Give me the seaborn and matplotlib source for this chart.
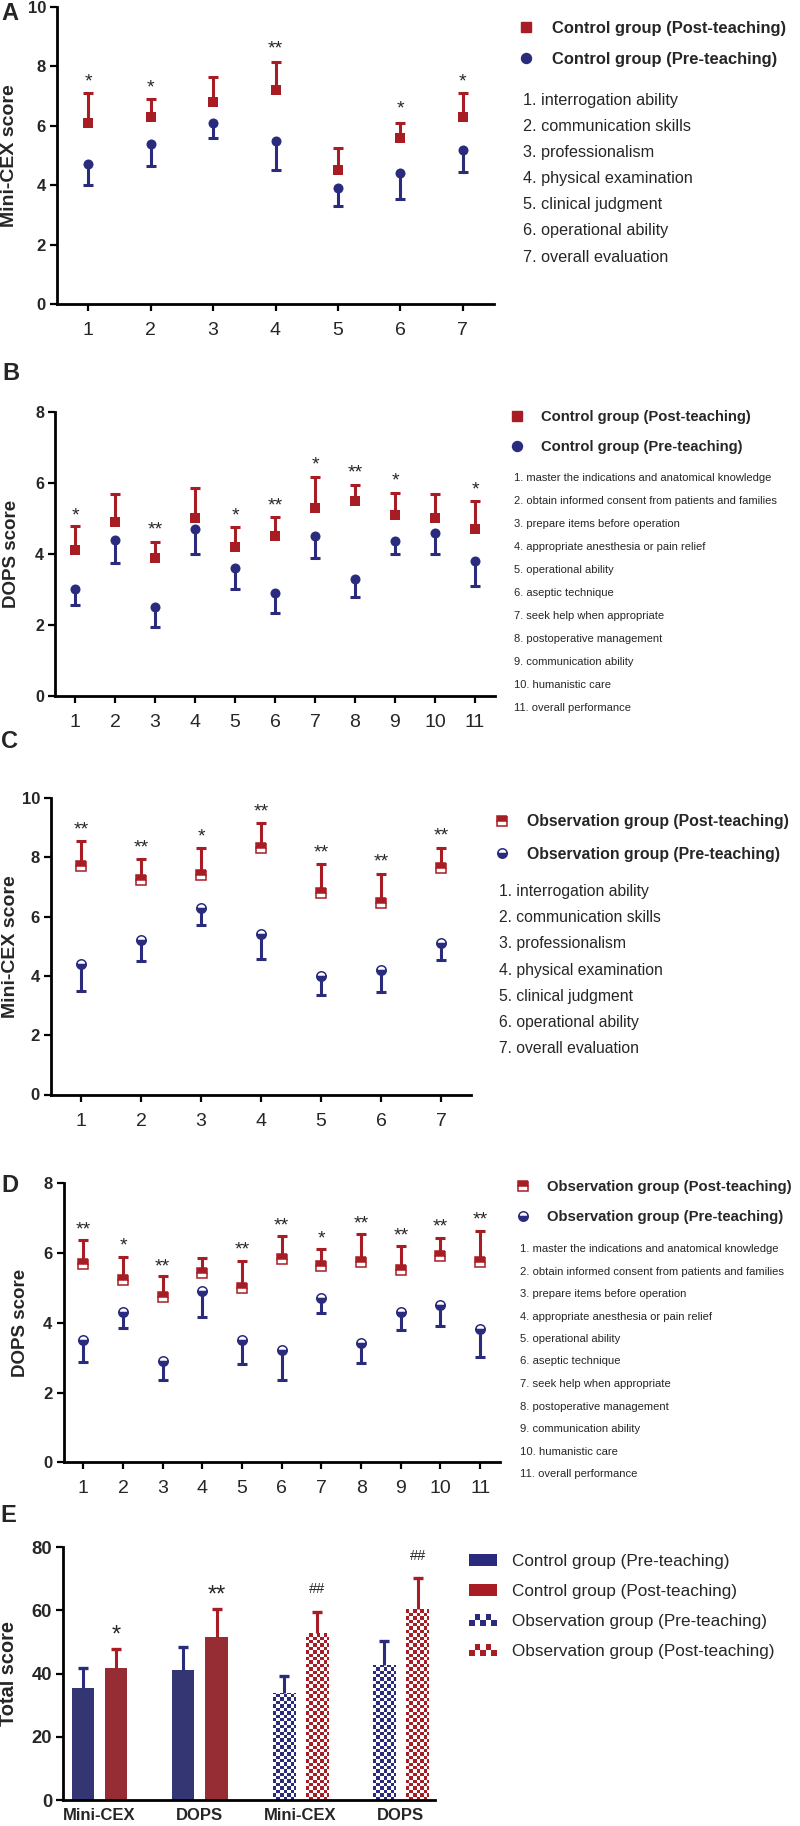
import numpy as np
import pandas as pd
import matplotlib
matplotlib.use("Agg")
import matplotlib.pyplot as plt
import seaborn as sns
from matplotlib import font_manager
from matplotlib.font_manager import FontProperties
from matplotlib.lines import Line2D
from matplotlib.patches import Patch, Rectangle
from matplotlib.legend_handler import HandlerBase
from matplotlib.colors import ListedColormap

RED = "#a81c24"
BLUE = "#2a2b7d"

# ---------------- data ----------------
mini_items = ["1. interrogation ability", "2. communication skills", "3. professionalism",
              "4. physical examination", "5. clinical judgment", "6. operational ability",
              "7. overall evaluation"]
dops_items = ["1. master the indications and anatomical knowledge",
              "2. obtain informed consent from patients and families",
              "3. prepare items before operation", "4. appropriate anesthesia or pain relief",
              "5. operational ability", "6. aseptic technique", "7. seek help when appropriate",
              "8. postoperative management", "9. communication ability",
              "10. humanistic care", "11. overall performance"]

# A: control group, Mini-CEX
a_post = [6.1, 6.3, 6.8, 7.2, 4.5, 5.6, 6.3]
a_post_hi = [7.1, 6.9, 7.65, 8.15, 5.25, 6.1, 7.1]
a_pre = [4.7, 5.4, 6.1, 5.5, 3.9, 4.4, 5.2]
a_pre_lo = [4.0, 4.65, 5.6, 4.5, 3.3, 3.55, 4.45]
a_sig = ["*", "*", "", "**", "", "*", "*"]
a_sig_y = [7.7, 7.5, 0, 8.8, 0, 6.8, 7.7]

# B: control group, DOPS
b_post = [4.1, 4.9, 3.9, 5.0, 4.2, 4.5, 5.3, 5.5, 5.1, 5.0, 4.7]
b_post_hi = [4.8, 5.7, 4.35, 5.87, 4.75, 5.03, 6.18, 5.94, 5.71, 5.69, 5.49]
b_pre = [3.0, 4.4, 2.5, 4.7, 3.6, 2.9, 4.5, 3.3, 4.37, 4.6, 3.8]
b_pre_lo = [2.56, 3.74, 1.94, 4.0, 3.0, 2.35, 3.88, 2.78, 4.0, 4.0, 3.1]
b_sig = ["*", "", "**", "", "*", "**", "*", "**", "*", "", "*"]
b_sig_y = [5.26, 0, 4.85, 0, 5.26, 5.54, 6.68, 6.46, 6.23, 0, 5.99]

# C: observation group, Mini-CEX
c_post = [7.7, 7.25, 7.4, 8.3, 6.8, 6.45, 7.65]
c_post_hi = [8.55, 7.94, 8.31, 9.15, 7.78, 7.43, 8.31]
c_pre = [4.4, 5.2, 6.3, 5.4, 4.0, 4.2, 5.1]
c_pre_lo = [3.48, 4.49, 5.7, 4.57, 3.34, 3.46, 4.55]
c_sig = ["**", "**", "*", "**", "**", "**", "**"]
c_sig_y = [9.15, 8.53, 8.92, 9.76, 8.38, 8.05, 8.95]

# D: observation group, DOPS
d_post = [5.68, 5.23, 4.75, 5.42, 4.99, 5.83, 5.63, 5.73, 5.52, 5.92, 5.73]
d_post_hi = [6.36, 5.9, 5.33, 5.85, 5.78, 6.49, 6.11, 6.54, 6.21, 6.44, 6.64]
d_pre = [3.51, 4.3, 2.91, 4.92, 3.51, 3.22, 4.7, 3.41, 4.32, 4.51, 3.82]
d_pre_lo = [2.89, 3.84, 2.36, 4.16, 2.82, 2.36, 4.27, 2.86, 3.8, 3.92, 3.01]
d_sig = ["**", "*", "**", "", "**", "**", "*", "**", "**", "**", "**"]
d_sig_y = [6.86, 6.38, 5.8, 0, 6.28, 6.97, 6.6, 7.02, 6.69, 6.95, 7.14]

# E: total scores
e_keys = ["Control Mini-CEX", "Control DOPS", "Observation Mini-CEX", "Observation DOPS"]
e_tests = ["Mini-CEX", "DOPS", "Mini-CEX", "DOPS"]
e_checked = [False, False, True, True]
e_pre = [35.4, 41.2, 34.0, 42.7]
e_pre_hi = [41.7, 48.3, 39.3, 50.3]
e_post = [41.9, 51.5, 52.8, 60.4]
e_post_hi = [47.7, 60.4, 59.6, 70.4]
e_sig = ["*", "**", "##", "##"]
e_sig_y = [54.3, 67.0, 67.0, 77.6]

# ---------------- style ----------------
sns.set_style("ticks")
installed = {f.name for f in font_manager.fontManager.ttflist}
BASE = "Liberation Sans" if "Liberation Sans" in installed else "DejaVu Sans"
if "Liberation Sans Narrow" in installed:
    NARROW, NSCALE = "Liberation Sans Narrow", 1.0
else:
    NARROW, NSCALE = BASE, 0.82
plt.rcParams["font.family"] = [BASE, "DejaVu Sans"]

W, H = 800, 1826
fig = plt.figure(figsize=(W / 100, H / 100), dpi=100)


def px_axes(left, top, right, bottom):
    return fig.add_axes([left / W, 1 - bottom / H, (right - left) / W, (bottom - top) / H])


def style_axes(ax, yticks, ytick_fs, ylabel, ylabel_fs, ylabel_x):
    sns.despine(ax=ax)
    for s in ("left", "bottom"):
        ax.spines[s].set_linewidth(2.0)
        ax.spines[s].set_color("black")
    ax.tick_params(axis="both", direction="out", length=5, width=1.6, color="black")
    ax.tick_params(axis="y", pad=3)
    ax.set_yticks(yticks)
    ax.set_yticklabels([str(t) for t in yticks], fontsize=ytick_fs, fontweight="bold")
    ax.set_ylabel(ylabel, fontsize=ylabel_fs, fontweight="bold", va="center")
    bb = ax.get_position()
    ax.yaxis.set_label_coords((ylabel_x / W - bb.x0) / bb.width, 0.5)


def sig_text(ax, x, y, s, fs):
    lift = 0.35 if s.startswith("#") else 0.57
    ax.annotate(s, (x, y), xytext=(0, -lift * fs), textcoords="offset points",
                ha="center", va="baseline", fontsize=fs)


def point_panel(ax, post, post_hi, pre, pre_lo, sig, sig_y, ymax, half):
    x = np.arange(1, len(post) + 1)
    ax.vlines(x, post, post_hi, color=RED, lw=2.2, zorder=2)
    ax.plot(x, post_hi, ls="", marker="_", ms=6.8, mew=2.2, color=RED, zorder=2)
    ax.vlines(x, pre_lo, pre, color=BLUE, lw=2.2, zorder=2)
    ax.plot(x, pre_lo, ls="", marker="_", ms=6.8, mew=2.2, color=BLUE, zorder=2)
    if half:
        ax.plot(x, post, ls="", marker="s", ms=6.6, fillstyle="top", color=RED,
                markerfacecoloralt="white", mec=RED, mew=1.1, zorder=3)
        ax.plot(x, pre, ls="", marker="o", ms=6.8, fillstyle="bottom", color=BLUE,
                markerfacecoloralt="white", mec=BLUE, mew=1.1, zorder=3)
    else:
        sns.scatterplot(x=x, y=post, marker="s", s=45, color=RED, linewidth=0, ax=ax, zorder=3)
        sns.scatterplot(x=x, y=pre, marker="o", s=52, color=BLUE, linewidth=0, ax=ax, zorder=3)
    for xi, s, yi in zip(x, sig, sig_y):
        if s:
            sig_text(ax, xi, yi, s, 14)
    ax.set_xlim(0.5, len(post) + 0.5)
    ax.set_ylim(0, ymax)
    ax.set_xticks(x)
    ax.set_xticklabels([str(v) for v in x], fontsize=14)
    ax.tick_params(axis="x", pad=8)


def place_legend(ax, handles, labels, key_cx, text_x, row1_y, row_gap, prop,
                 hl=1.0, hh=0.7, handler_map=None):
    fs_px = prop.get_size_in_points() * 100 / 72
    key_left = key_cx - hl * fs_px / 2
    pad = (text_x - key_left - hl * fs_px) / fs_px
    spacing = (row_gap - 0.92 * fs_px) / fs_px
    top = row1_y - 0.35 * fs_px
    return ax.legend(handles, labels, loc="upper left",
                     bbox_to_anchor=(key_left / W, 1 - top / H), bbox_transform=fig.transFigure,
                     frameon=False, borderpad=0, borderaxespad=0, handlelength=hl,
                     handleheight=hh, handletextpad=pad, labelspacing=spacing, prop=prop,
                     handler_map=handler_map, numpoints=1)


def item_list(items, x, y0, dy, fs, family):
    for i, s in enumerate(items):
        fig.text(x / W, 1 - (y0 + i * dy) / H, s, fontsize=fs, family=family,
                 ha="left", va="center")


def panel_letter(s, x, y):
    fig.text(x / W, 1 - y / H, s, fontsize=17, fontweight="bold", ha="center", va="center")


full_keys = [Line2D([], [], ls="", marker="s", ms=6.7, color=RED),
             Line2D([], [], ls="", marker="o", ms=7.2, color=BLUE)]
half_keys = [Line2D([], [], ls="", marker="s", ms=6.6, fillstyle="top", color=RED,
                    markerfacecoloralt="white", mec=RED, mew=1.1),
             Line2D([], [], ls="", marker="o", ms=6.8, fillstyle="bottom", color=BLUE,
                    markerfacecoloralt="white", mec=BLUE, mew=1.1)]

# ---------------- A ----------------
axA = px_axes(57, 7, 494, 304)
point_panel(axA, a_post, a_post_hi, a_pre, a_pre_lo, a_sig, a_sig_y, 10, False)
style_axes(axA, [0, 2, 4, 6, 8, 10], 12, "Mini-CEX score", 14, 10)
place_legend(axA, full_keys, ["Control group (Post-teaching)", "Control group (Pre-teaching)"],
             526, 552, 27, 31, FontProperties(family=NARROW, weight="bold", size=14.5 * NSCALE))
item_list(mini_items, 523, 100, 26.2, 11.7, BASE)
panel_letter("A", 10, 13)

# ---------------- B ----------------
axB = px_axes(55, 412, 495, 696)
point_panel(axB, b_post, b_post_hi, b_pre, b_pre_lo, b_sig, b_sig_y, 8, False)
style_axes(axB, [0, 2, 4, 6, 8], 11.5, "DOPS score", 13.5, 11)
place_legend(axB, full_keys, ["Control group (Post-teaching)", "Control group (Pre-teaching)"],
             517, 541, 415, 30, FontProperties(family=NARROW, weight="bold", size=13 * NSCALE))
item_list(dops_items, 514, 478, 23, 9.8 * NSCALE, NARROW)
panel_letter("B", 11, 373)

# ---------------- C ----------------
axC = px_axes(51, 798, 471, 1094.5)
point_panel(axC, c_post, c_post_hi, c_pre, c_pre_lo, c_sig, c_sig_y, 10, True)
style_axes(axC, [0, 2, 4, 6, 8, 10], 12, "Mini-CEX score", 14, 11)
place_legend(axC, half_keys,
             ["Observation group (Post-teaching)", "Observation group (Pre-teaching)"],
             502, 527, 820, 32, FontProperties(family=NARROW, weight="bold", size=14 * NSCALE))
item_list(mini_items, 499, 891.7, 26.1, 11.3, BASE)
panel_letter("C", 9, 741)

# ---------------- D ----------------
axD = px_axes(63.5, 1183.3, 500, 1462.3)
point_panel(axD, d_post, d_post_hi, d_pre, d_pre_lo, d_sig, d_sig_y, 8, True)
style_axes(axD, [0, 2, 4, 6, 8], 12, "DOPS score", 13.5, 21)
place_legend(axD, half_keys,
             ["Observation group (Post-teaching)", "Observation group (Pre-teaching)"],
             523, 547, 1185, 30, FontProperties(family=NARROW, weight="bold", size=13.1 * NSCALE))
item_list(dops_items, 520, 1249, 22.5, 9.9 * NSCALE, NARROW)
panel_letter("D", 10, 1185)

# ---------------- E ----------------
axE = px_axes(63.3, 1547.3, 435, 1800)
df = pd.DataFrame({"key": e_keys * 2,
                   "stage": ["Pre-teaching"] * 4 + ["Post-teaching"] * 4,
                   "score": e_pre + e_post})
sns.barplot(data=df, x="key", y="score", hue="stage", order=e_keys,
            hue_order=["Pre-teaching", "Post-teaching"], palette=[BLUE, RED],
            width=0.666, gap=0.333, errorbar=None, linewidth=0, legend=False, ax=axE)
axE.set_xlim(-0.36, 3.34)
axE.set_ylim(0, 80)
style_axes(axE, [0, 20, 40, 60, 80], 13.3, "Total score", 14.4, 8.5)
axE.set_xlabel("")
axE.set_xticks(range(len(e_tests)))
axE.set_xticklabels(e_tests, fontsize=12, fontweight="bold")
axE.tick_params(axis="x", length=0, pad=6)

p0 = axE.transData.transform((0, 0))
p1 = axE.transData.transform((1, 1))
cw = 3.4 / (p1[0] - p0[0])
ch = 3.4 / (p1[1] - p0[1])
for cont, color, hi_vals in ((axE.containers[0], BLUE, e_pre_hi), (axE.containers[1], RED, e_post_hi)):
    for bar, checked, hi in zip(cont, e_checked, hi_vals):
        xc = bar.get_x() + bar.get_width() / 2
        top = bar.get_height()
        axE.vlines(xc, top, hi, color=color, lw=2.2, zorder=2)
        axE.plot([xc], [hi], ls="", marker="_", ms=7.2, mew=2.4, color=color, zorder=2)
        if checked:
            bar.set_facecolor("white")
            nx = int(np.ceil(bar.get_width() / cw))
            ny = int(np.ceil(top / ch))
            grid = np.add.outer(np.arange(ny), np.arange(nx)) % 2
            im = axE.imshow(grid, extent=(bar.get_x(), bar.get_x() + nx * cw, 0, ny * ch),
                            origin="lower", cmap=ListedColormap(["white", color]),
                            interpolation="nearest", aspect="auto", zorder=bar.get_zorder() + 0.1)
            im.set_clip_path(bar)
for bar, s, yi in zip(axE.containers[1], e_sig, e_sig_y):
    sig_text(axE, bar.get_x() + bar.get_width() / 2, yi, s, 10.5 if s.startswith("#") else 17)
axE.set_xlim(-0.36, 3.34)
axE.set_ylim(0, 80)


class CheckerKey:
    def __init__(self, color):
        self.color = color


class CheckerHandler(HandlerBase):
    def create_artists(self, legend, orig_handle, xdescent, ydescent, width, height, fontsize, trans):
        ncol, nrow = 5, 2
        w, h = width / ncol, height / nrow
        arts = []
        for i in range(ncol):
            for j in range(nrow):
                if (i + j) % 2 == 0:
                    arts.append(Rectangle((-xdescent + i * w, -ydescent + j * h), w, h,
                                          facecolor=orig_handle.color, edgecolor="none",
                                          transform=trans))
        return arts


e_prop = FontProperties(family=NARROW, size=15 * NSCALE)
e_fs_px = e_prop.get_size_in_points() * 100 / 72
place_legend(axE,
             [Patch(facecolor=BLUE, edgecolor="none"), Patch(facecolor=RED, edgecolor="none"),
              CheckerKey(BLUE), CheckerKey(RED)],
             ["Control group (Pre-teaching)", "Control group (Post-teaching)",
              "Observation group (Pre-teaching)", "Observation group (Post-teaching)"],
             483, 512, 1560, 30.7, e_prop, hl=28 / e_fs_px, hh=11.7 / e_fs_px,
             handler_map={CheckerKey: CheckerHandler()})
panel_letter("E", 8, 1515)

fig.savefig("out.png", dpi=100)
